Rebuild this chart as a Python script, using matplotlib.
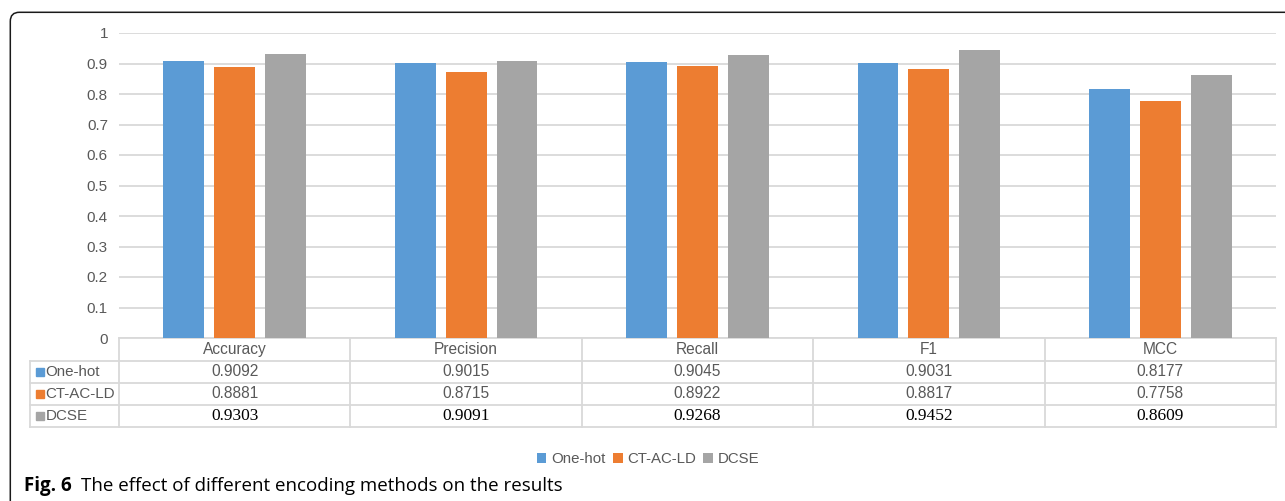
import numpy as np
import matplotlib
matplotlib.use("Agg")
import matplotlib.pyplot as plt
import matplotlib.transforms as mtransforms
from matplotlib.patches import FancyBboxPatch, Rectangle

# data
metrics = ["Accuracy", "Precision", "Recall", "F1", "MCC"]
methods = ["One-hot", "CT-AC-LD", "DCSE"]
one_hot = [0.9092, 0.9015, 0.9045, 0.9031, 0.8177]
ct_ac_ld = [0.8881, 0.8715, 0.8922, 0.8817, 0.7758]
dcse = [0.9303, 0.9091, 0.9268, 0.9452, 0.8609]
yticks = [0, 0.1, 0.2, 0.3, 0.4, 0.5, 0.6, 0.7, 0.8, 0.9, 1]
ytick_labels = ["0", "0.1", "0.2", "0.3", "0.4", "0.5", "0.6", "0.7", "0.8", "0.9", "1"]

colors = ["#5B9BD5", "#ED7D31", "#A5A5A5"]
txt_gray = "#595959"
line_gray = "#D9D9D9"
sans = "Liberation Sans"
serif = "Liberation Serif"

W, H = 1285, 501
fig = plt.figure(figsize=(W / 100, H / 100), dpi=100)
ax = fig.add_axes([119 / W, 1 - 338 / H, (1276 - 119) / W, (338 - 33) / H])

series = [one_hot, ct_ac_ld, dcse]
x = np.arange(len(metrics))
bw = 0.177
offs = [-0.22, 0, 0.22]
for vals, name, c, o in zip(series, methods, colors, offs):
    ax.bar(x + o, vals, bw, color=c, label=name, zorder=3)

ax.set_xlim(-0.5, len(metrics) - 0.5)
ax.set_ylim(0, 1)
ax.set_yticks(yticks)
ax.set_yticklabels(ytick_labels, fontsize=11, color=txt_gray, family=sans)
ax.tick_params(axis="y", length=0, pad=8)
ax.set_xticks([])
ax.grid(axis="y", color=line_gray, lw=1.3, zorder=0)
for s in ax.spines.values():
    s.set_visible(False)

# data table under the plot
tr = mtransforms.blended_transform_factory(ax.transData, ax.transAxes)
ah = 338 - 33
bounds = [0, -23 / ah, -45 / ah, -67 / ah, -89 / ah]
xl = -0.5 - 89 / ((1276 - 119) / len(metrics))
lkw = dict(color=line_gray, lw=1.3, transform=tr, clip_on=False)
ax.plot([-0.5, 4.5], [0, 0], **lkw)
for b in bounds[1:]:
    ax.plot([xl, 4.5], [b, b], **lkw)
for xv in np.arange(-0.5, 5.0, 1.0):
    ax.plot([xv, xv], [0, bounds[-1]], **lkw)
ax.plot([xl, xl], [bounds[1], bounds[-1]], **lkw)

for i, m in enumerate(metrics):
    ax.text(i, (bounds[0] + bounds[1]) / 2, m, transform=tr, ha="center", va="center",
            fontsize=11.2, color=txt_gray, family=sans)
for r, (vals, name, c) in enumerate(zip(series, methods, colors)):
    yc = (bounds[r + 1] + bounds[r + 2]) / 2
    ax.add_patch(Rectangle((xl + 0.025, yc - 0.014), 0.037, 0.028, color=c,
                           transform=tr, clip_on=False))
    ax.text(xl + 0.068, yc, name, transform=tr, ha="left", va="center",
            fontsize=10.9, color=txt_gray, family=sans)
    for i, v in enumerate(vals):
        if name == "DCSE":
            ax.text(i, yc, f"{v:.4f}", transform=tr, ha="center", va="center",
                    fontsize=12.5, color="black", family=serif)
        else:
            ax.text(i, yc, f"{v:.4f}", transform=tr, ha="center", va="center",
                    fontsize=11.2, color=txt_gray, family=sans)

leg = fig.legend(loc="center", bbox_to_anchor=(648 / W, 1 - 459 / H), ncol=3,
                 frameon=False, handlelength=0.65, handleheight=0.65,
                 handletextpad=0.3, columnspacing=0.5,
                 prop={"family": sans, "size": 10.8})
for t in leg.get_texts():
    t.set_color(txt_gray)

# caption
fig.text(24 / W, 1 - 486 / H, "Fig. 6", fontsize=13.5, fontweight="bold",
         family="Open Sans", va="center", ha="left")
fig.text(81 / W, 1 - 486 / H, "The effect of different encoding methods on the results",
         fontsize=13.5, family="Open Sans", va="center", ha="left")

# rounded frame, open to the right and bottom
frame = FancyBboxPatch((10.3, -30), 1400, (H - 12.3) + 30,
                       boxstyle="round,pad=0,rounding_size=9",
                       transform=mtransforms.IdentityTransform(),
                       fill=False, ec="#1a1a1a", lw=1.1)
fig.patches.append(frame)

fig.savefig("out.png", dpi=100)
